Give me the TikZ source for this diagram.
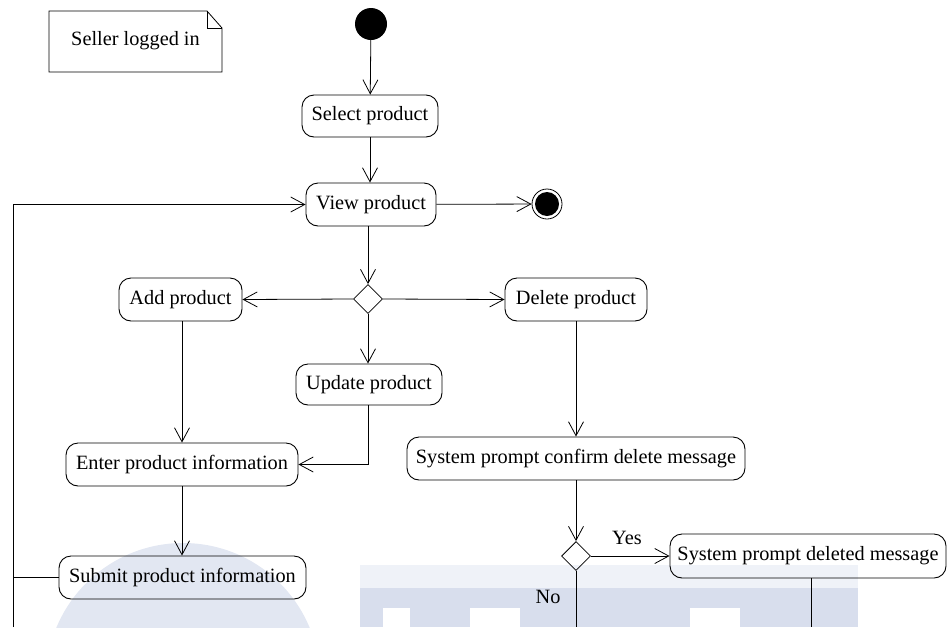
\documentclass[tikz,border=0pt]{standalone}
\usepackage{fontspec}
\setmainfont{Liberation Serif}
\usetikzlibrary{arrows.meta,shapes.geometric}
\definecolor{wm}{RGB}{216,222,237}
\definecolor{wmc}{RGB}{226,231,242}
\definecolor{wml}{RGB}{239,242,248}
\begin{document}
\begin{tikzpicture}[x=1pt,y=-1pt,
  act/.style={draw, rounded corners=12pt, line width=0.9pt, inner sep=0pt, font=\fontsize{20.3}{24}\selectfont},
  dec/.style={draw, diamond, aspect=1, inner sep=0pt, minimum width=29pt, minimum height=29pt, line width=0.8pt},
  flow/.style={line width=0.8pt, -{Straight Barb[length=14pt,width=15pt]}},
  seg/.style={line width=0.8pt},
  lbl/.style={font=\fontsize{20.3}{24}\selectfont, inner sep=0pt}
]
\useasboundingbox (0,0) rectangle (947,627);
% faint watermark
\fill[wmc] (183,680) circle (137pt);
\fill[wml] (360,565) rectangle (858,627);
\fill[wm] (360,588) rectangle (858,627);
\fill[white] (383,608) rectangle (410,627);
\fill[white] (470,608) rectangle (520,627);
\fill[white] (690,608) rectangle (740,627);
% note
\draw[line width=0.8pt] (49,11) -- (207,11) -- (222,28) -- (222,72) -- (49,72) -- cycle;
\draw[line width=0.8pt] (207,11) -- (207,28) -- (222,28);
\node[lbl] (note) at (135.5,41) {Seller logged in};
% nodes
\node[circle, fill=black, minimum size=32pt, inner sep=0pt] (init) at (371,24) {};
\node[act, minimum width=136pt, minimum height=42pt] (sel) at (370,116) {Select product};
\node[act, minimum width=130pt, minimum height=43pt] (view) at (371,204.5) {View product};
\node[circle, draw, line width=0.8pt, minimum size=30pt, inner sep=0pt] (fin) at (547,204) {};
\fill (fin.center) circle (12pt);
\node[dec] (d1) at (368,299) {};
\node[act, minimum width=123pt, minimum height=43pt] (add) at (180.5,299.5) {Add product};
\node[act, minimum width=142pt, minimum height=43pt] (del) at (576,299.5) {Delete product};
\node[act, minimum width=146pt, minimum height=41pt] (upd) at (369,384.5) {Update product};
\node[act, minimum width=232pt, minimum height=43pt] (enter) at (182,464.5) {Enter product information};
\node[act, minimum width=338pt, minimum height=43pt] (conf) at (576,458.5) {System prompt confirm delete message};
\node[dec] (d2) at (576,556) {};
\node[act, minimum width=276pt, minimum height=44pt] (deleted) at (808,556) {System prompt deleted message};
\node[act, minimum width=247pt, minimum height=43pt] (submit) at (182.5,577.5) {Submit product information};
\node[lbl] (yes) at (627,538) {Yes};
\node[lbl] (no) at (548,597) {No};
\coordinate (loopb) at (13,627);
\coordinate (nob) at (576,627);
\coordinate (delb) at (811,627);
% edges
\draw[flow] (init) -- (sel);
\draw[flow] (sel) -- (view.north -| sel);
\draw[flow] (view) -- (fin);
\draw[flow] (view.south -| d1.north) -- (d1.north);
\draw[flow] (d1.west) -- (add.east);
\draw[flow] (d1.east) -- (del.west);
\draw[flow] (d1.south) -- (upd.north -| d1.south);
\draw[flow] (add.south -| enter.north) -- (enter.north);
\draw[flow] (upd.south -| d1.south) |- (enter.east);
\draw[flow] (enter.south) -- (submit.north -| enter.south);
\draw[flow] (del.south) -- (conf.north);
\draw[flow] (conf.south) -- (d2.north);
\draw[flow] (d2.east) -- (deleted.west);
\draw[seg] (d2.south) -- (nob);
\draw[seg] (deleted.south -| delb) -- (delb);
\draw[seg] (submit.west) -- (submit.west -| loopb);
\draw[flow] (loopb) |- (view.west);
\end{tikzpicture}
\end{document}
